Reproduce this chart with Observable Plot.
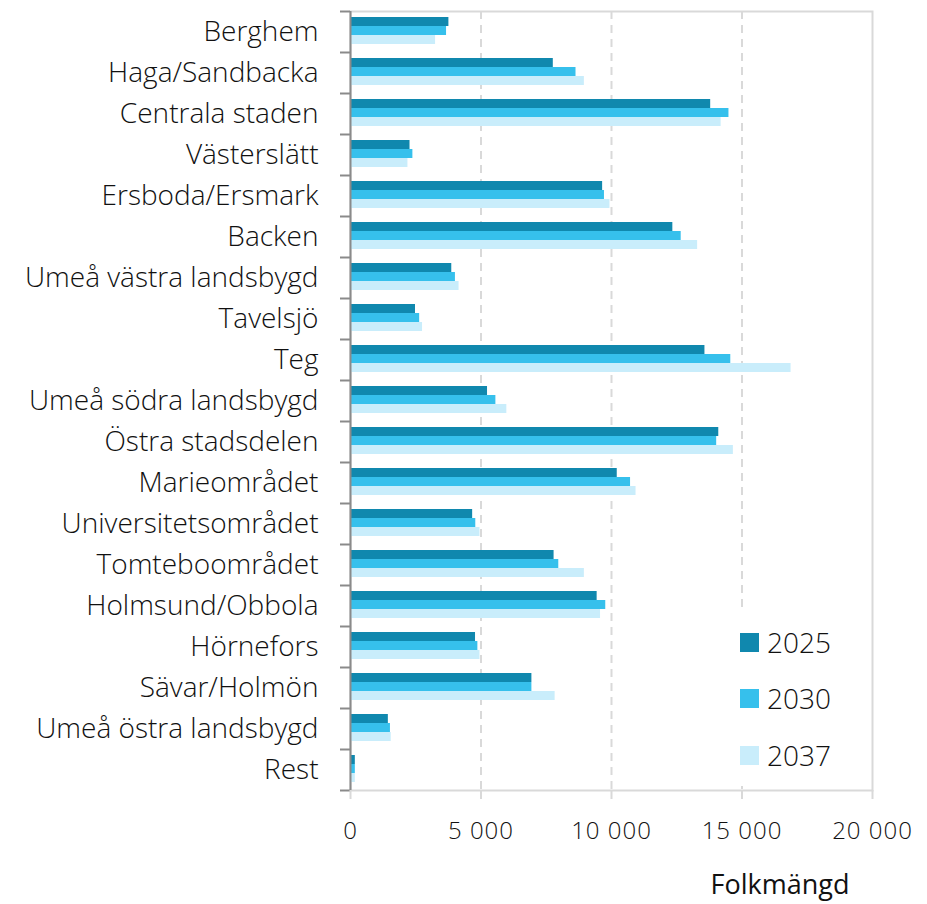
<!DOCTYPE html>
<html>
<head>
<meta charset="utf-8">
<script src="https://cdn.jsdelivr.net/npm/d3@7"></script>
<script src="https://cdn.jsdelivr.net/npm/@observablehq/plot@0.6"></script>
<style>
  html, body { margin: 0; padding: 0; background: #fff; }
  #wrap { position: relative; width: 927px; height: 904px; font-family: "Open Sans", sans-serif; font-weight: 300; color: #111; }
  #legend { position: absolute; left: 728px; top: 612px; width: 140px; height: 174px; background: #fff; }
  .item { position: absolute; left: 12px; display: flex; align-items: center; font-size: 28px; line-height: 1; }
  .sw { width: 19px; height: 19px; margin-right: 8px; }
  #xlabel { position: absolute; left: 680px; width: 200px; top: 870px; text-align: center; font-size: 27px; line-height: 1; font-weight: 400; }
  g[aria-label="x-axis tick label"] text { letter-spacing: 1px; }
</style>
</head>
<body>
<div id="wrap"></div>
<script>
const categories = ["Berghem","Haga/Sandbacka","Centrala staden","Västerslätt","Ersboda/Ersmark","Backen","Umeå västra landsbygd","Tavelsjö","Teg","Umeå södra landsbygd","Östra stadsdelen","Marieområdet","Universitetsområdet","Tomteboområdet","Holmsund/Obbola","Hörnefors","Sävar/Holmön","Umeå östra landsbygd","Rest"];
const years = ["2025","2030","2037"];
const v2025 = [3770,7770,13800,2280,9660,12350,3880,2490,13580,5250,14110,10220,4680,7800,9450,4790,6950,1450,185];
const v2030 = [3680,8640,14500,2390,9730,12670,4020,2650,14570,5570,14030,10730,4800,7980,9780,4880,6950,1530,185];
const v2037 = [3260,8960,14200,2200,9940,13300,4160,2760,16880,5990,14670,10940,4960,8960,9580,4960,7840,1560,185];
const colors = ["#1088ae","#36c0ec","#c9edfb"];
const xTicks = [0,5000,10000,15000,20000];

const series = [v2025, v2030, v2037];
const tables = series.map(vals => categories.map((c, i) => ({category: c, value: vals[i]})));

const width = 927, height = 904, mt = 11, mb = 114, ml = 350, mr = 55;
const bw = (height - mt - mb) / categories.length;
const barH = 9;
const tops = [6, 15, 24];
const fmt = d => d3.format(",")(d).replace(/,/g, " ");
const grid = "#d9d9d9";

const bars = tables.map((t, k) => Plot.barX(t, {
  x: "value", y: "category", fill: colors[k],
  insetTop: tops[k], insetBottom: bw - tops[k] - barH
}));

const chart = Plot.plot({
  width, height,
  marginTop: mt, marginBottom: mb, marginLeft: ml, marginRight: mr,
  style: {fontFamily: "'Open Sans', sans-serif", fontWeight: 300, color: "#111", background: "#fff"},
  x: {domain: [0, 20000]},
  y: {domain: categories, padding: 0},
  marks: [
    Plot.gridX(xTicks.slice(1, 4), {stroke: grid, strokeOpacity: 1, strokeWidth: 2, strokeDasharray: "8,6"}),
    Plot.frame({stroke: grid, strokeWidth: 2}),
    ...bars,
    Plot.ruleX([0], {stroke: "#8a8a8a", strokeWidth: 2}),
    Plot.ruleY(categories, {y: d => d, x1: 0, x2: 0, insetLeft: -10, dy: -bw / 2, stroke: "#8a8a8a", strokeWidth: 2}),
    Plot.ruleY(categories.slice(-1), {y: d => d, x1: 0, x2: 0, insetLeft: -10, dy: bw / 2, stroke: "#8a8a8a", strokeWidth: 2}),
    Plot.axisY({tickSize: 0, tickPadding: 32, fontSize: 28, label: null, fill: "#111"}),
    Plot.axisX({ticks: xTicks, tickSize: 9, stroke: grid, strokeWidth: 2, tickPadding: 22, fontSize: 24, tickFormat: fmt, label: null, fill: "#111"})
  ]
});

const wrap = document.getElementById("wrap");
wrap.appendChild(chart);

const legend = document.createElement("div");
legend.id = "legend";
const centers = [30, 86, 143];
years.forEach((y, k) => {
  const it = document.createElement("div");
  it.className = "item";
  it.style.top = (centers[k] - 14) + "px";
  it.innerHTML = `<div class="sw" style="background:${colors[k]}"></div><span>${y}</span>`;
  legend.appendChild(it);
});
wrap.appendChild(legend);

const xl = document.createElement("div");
xl.id = "xlabel";
xl.textContent = "Folkmängd";
wrap.appendChild(xl);
</script>
</body>
</html>
